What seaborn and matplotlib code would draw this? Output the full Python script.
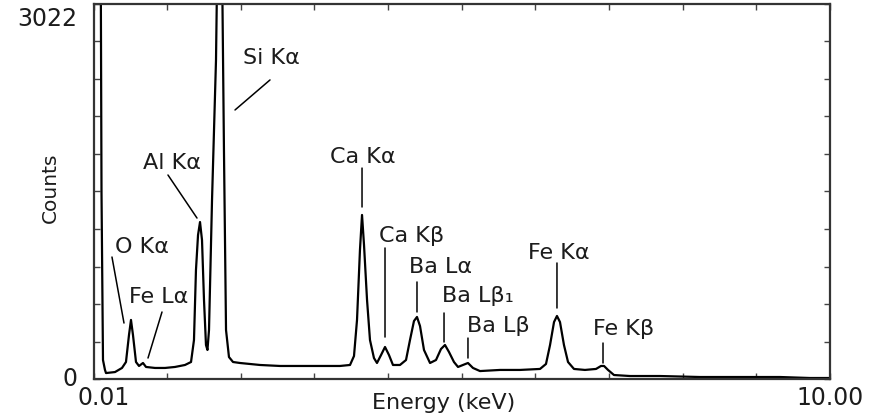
import matplotlib
matplotlib.use("Agg")
import matplotlib.pyplot as plt
import matplotlib.transforms as mtransforms
import seaborn as sns
import pandas as pd

# ---- data ----
energy_kev = [0.051, 0.091, 0.112, 0.132, 0.159, 0.173, 0.295, 0.39, 0.444, 0.485,
              0.512, 0.539, 0.58, 0.621, 0.675, 0.716, 0.838, 0.974, 1.109, 1.245,
              1.327, 1.367, 1.394, 1.422, 1.449, 1.476, 1.503, 1.530, 1.55, 1.571,
              1.612, 1.666, 1.720, 1.774, 1.802, 1.842, 1.897, 1.992, 2.263, 2.535,
              2.806, 3.078, 3.349, 3.485, 3.539, 3.58, 3.62, 3.648, 3.675, 3.716,
              3.756, 3.81, 3.851, 3.906, 3.96, 4.014, 4.068, 4.163, 4.245, 4.299,
              4.353, 4.394, 4.435, 4.489, 4.571, 4.652, 4.72, 4.774, 4.828, 4.896,
              4.951, 5.018, 5.086, 5.154, 5.249, 5.521, 5.792, 6.064, 6.145, 6.2,
              6.254, 6.294, 6.335, 6.389, 6.444, 6.525, 6.674, 6.824, 6.892, 6.933,
              6.987, 7.068, 7.285, 7.692, 8.235, 8.778, 9.321, 9.728, 9.986]
counts = [3800, 5200, 1500, 153, 73, 48, 56, 89, 137, 355,
          476, 355, 137, 105, 129, 97, 89, 89, 97, 113,
          137, 314, 878, 1160, 1265, 1120, 637, 274, 234, 395,
          1443, 2571, 5000, 1845, 395, 177, 137, 129, 113, 105,
          105, 105, 105, 113, 185, 476, 1040, 1322, 1080, 637,
          314, 169, 129, 193, 258, 193, 113, 113, 153, 314,
          467, 500, 427, 234, 129, 153, 242, 274, 218, 137,
          97, 113, 129, 89, 64, 73, 73, 81, 121, 274,
          459, 508, 459, 274, 137, 81, 73, 81, 105, 105,
          73, 32, 24, 24, 16, 16, 16, 8, 8]

peak_labels = ["Si K\u03b1", "Al K\u03b1", "O K\u03b1", "Fe L\u03b1", "Ca K\u03b1", "Ca K\u03b2",
               "Ba L\u03b1", "Ba L\u03b2\u2081", "Ba L\u03b2", "Fe K\u03b1", "Fe K\u03b2"]

# layout of the peak labels (text centre) and their leader lines, in data units
label_xy = [(2.412, 2587), (1.069, 1741), (0.661, 1064), (0.892, 661), (3.661, 1789),
            (4.326, 1152), (4.72, 903), (5.222, 669), (5.493, 427), (6.321, 1015),
            (7.203, 403)]
leader_from = [(2.399, 2410), (1.014, 1644), (0.254, 983), (0.933, 540), (3.648, 1700),
               (3.96, 1056), (4.394, 782), (4.761, 532), (5.086, 330), (6.294, 935),
               (6.919, 290)]
leader_to = [(1.924, 2168), (1.408, 1297), (0.417, 451), (0.743, 169), (3.648, 1386),
             (3.96, 338), (4.394, 540), (4.761, 298), (5.086, 169), (6.294, 572),
             (6.919, 129)]

x_min, x_max = 0.01, 10.00
y_min, y_max = 0, 3022
x_tick_labels = ["0.01", "10.00"]
y_tick_labels = ["0", "3022"]

sns.set_theme(style="white")
plt.rcParams["font.family"] = ["DejaVu Sans"]
TXT = "#1c1c1c"

df = pd.DataFrame({"Energy": energy_kev, "Counts": counts})

fig = plt.figure(figsize=(8.72, 4.19), dpi=100)
ax = fig.add_axes([94 / 872, 1 - 379 / 419, 736 / 872, 375 / 419])

sns.lineplot(data=df, x="Energy", y="Counts", ax=ax, color="black", linewidth=1.6,
             sort=False, estimator=None)

ax.set_xlim(x_min, x_max)
ax.set_ylim(y_min, y_max)

xt = [x_min] + list(range(1, 10)) + [x_max]
ax.set_xticks(xt)
ax.set_xticklabels([x_tick_labels[0]] + [""] * 9 + [x_tick_labels[1]])
yt = [y_max * k / 10 for k in range(11)]
ax.set_yticks(yt)
ax.set_yticklabels([y_tick_labels[0]] + [""] * 9 + [y_tick_labels[1]])

ax.tick_params(axis="both", direction="in", length=4, width=1, color="#444444",
               top=True, right=True, left=True, bottom=True, labelsize=17,
               labelcolor=TXT)
ax.tick_params(axis="x", pad=5)
ax.tick_params(axis="y", pad=12)
ylabs = ax.get_yticklabels()
ylabs[-1].set_va("top")
ylabs[-1].set_transform(ylabs[-1].get_transform() +
                        mtransforms.ScaledTranslation(0, -3 / 100, fig.dpi_scale_trans))
ylabs[0].set_va("center")
xlabs = ax.get_xticklabels()
xlabs[0].set_transform(xlabs[0].get_transform() +
                       mtransforms.ScaledTranslation(10 / 100, 0, fig.dpi_scale_trans))

for s in ax.spines.values():
    s.set_color("#333333")
    s.set_linewidth(1.6)

ax.set_xlabel("")
ax.set_ylabel("")
fig.text(50 / 872, 1 - 188 / 419, "Counts", rotation=90, ha="center", va="center",
         fontsize=14.5, color=TXT)
fig.text(444 / 872, 1 - 403 / 419, "Energy (keV)", ha="center", va="center",
         fontsize=16, color=TXT)

for lab, (tx, ty), p0, p1 in zip(peak_labels, label_xy, leader_from, leader_to):
    ax.text(tx, ty, lab, ha="center", va="center", fontsize=16, color=TXT)
    ax.annotate("", xy=p1, xytext=p0,
                arrowprops=dict(arrowstyle="-", color="black", lw=1.1,
                                shrinkA=0, shrinkB=0))

fig.savefig("out.png", dpi=100)
